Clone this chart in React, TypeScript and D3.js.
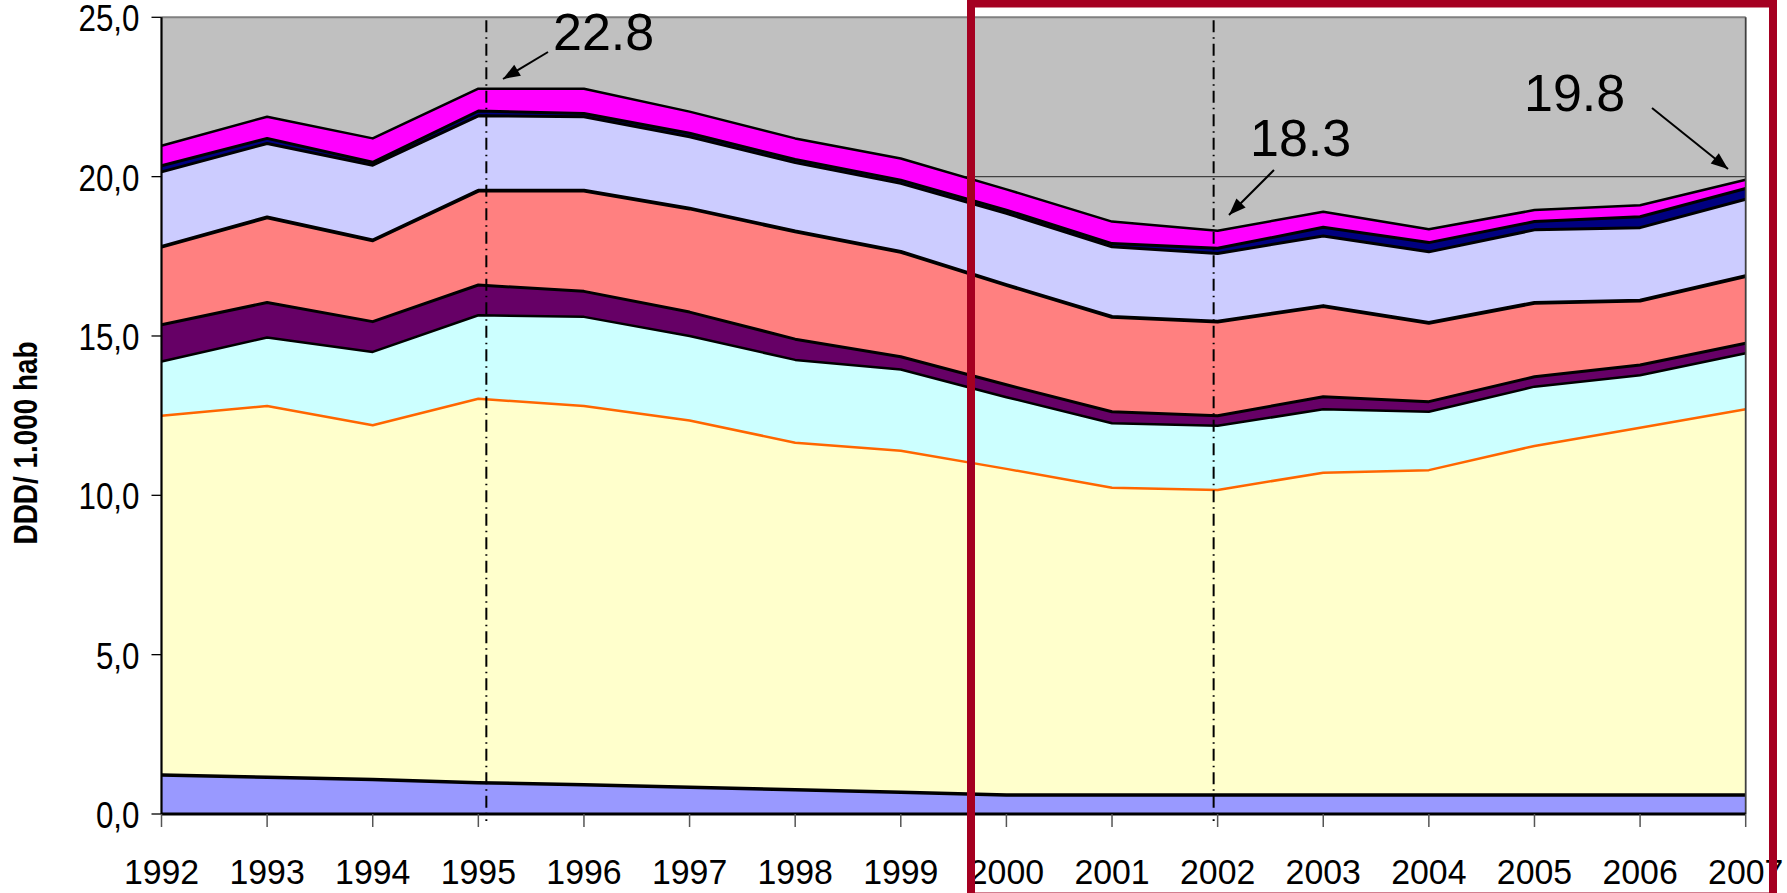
import React from 'react';
import * as d3 from 'd3';

// ---- data ----
const years = [1992, 1993, 1994, 1995, 1996, 1997, 1998, 1999, 2000, 2001, 2002, 2003, 2004, 2005, 2006, 2007];
const serieBase = [1.22, 1.15, 1.08, 0.98, 0.92, 0.84, 0.76, 0.68, 0.6, 0.6, 0.6, 0.6, 0.6, 0.6, 0.6, 0.6];
const serieAmarilla = [11.28, 11.65, 11.12, 12.05, 11.88, 11.51, 10.89, 10.72, 10.23, 9.64, 9.57, 10.11, 10.19, 10.95, 11.52, 12.1];
const serieCian = [1.7, 2.15, 2.3, 2.62, 2.8, 2.65, 2.6, 2.55, 2.25, 2.02, 2.01, 1.99, 1.83, 1.86, 1.65, 1.76];
const seriePurpura = [1.15, 1.1, 0.95, 0.95, 0.8, 0.75, 0.65, 0.4, 0.39, 0.36, 0.32, 0.39, 0.32, 0.31, 0.32, 0.31];
const serieSalmon = [2.45, 2.67, 2.55, 2.96, 3.16, 3.25, 3.38, 3.29, 3.13, 2.98, 2.95, 2.85, 2.47, 2.32, 2.02, 2.11];
const serieLavanda = [2.35, 2.32, 2.36, 2.35, 2.32, 2.25, 2.16, 2.15, 2.25, 2.2, 2.14, 2.2, 2.23, 2.29, 2.29, 2.41];
const serieAzul = [0.19, 0.16, 0.09, 0.15, 0.1, 0.11, 0.1, 0.1, 0.1, 0.1, 0.16, 0.27, 0.29, 0.26, 0.34, 0.34];
const serieMagenta = [0.63, 0.68, 0.75, 0.7, 0.78, 0.68, 0.66, 0.68, 0.65, 0.69, 0.55, 0.49, 0.42, 0.36, 0.36, 0.27];
const yTicks = [0, 5, 10, 15, 20, 25];
const yMax = 25;
const yTitle = 'DDD/ 1.000 hab';
const annotations = [
  { text: '22.8', tx: 553, ty: 50, x1: 548, y1: 52, x2: 503, y2: 79 },
  { text: '18.3', tx: 1250, ty: 156, x1: 1274, y1: 170, x2: 1229, y2: 215 },
  { text: '19.8', tx: 1524, ty: 111, x1: 1652, y1: 108, x2: 1728, y2: 169 },
];
const markedYears = [{ year: 1995, dx: 8 }, { year: 2002, dx: -4 }];

const seriesDefs = [
  { key: 'base', values: serieBase, fill: '#9999FF', stroke: '#000000', sw: 3.5 },
  { key: 'amarilla', values: serieAmarilla, fill: '#FFFFCC', stroke: '#FF6600', sw: 2.5 },
  { key: 'cian', values: serieCian, fill: '#CCFFFF', stroke: '#000000', sw: 2.5 },
  { key: 'purpura', values: seriePurpura, fill: '#660066', stroke: '#000000', sw: 3 },
  { key: 'salmon', values: serieSalmon, fill: '#FF8080', stroke: '#000000', sw: 3.8 },
  { key: 'lavanda', values: serieLavanda, fill: '#CCCCFF', stroke: '#000000', sw: 3 },
  { key: 'azul', values: serieAzul, fill: '#000080', stroke: '#000000', sw: 3 },
  { key: 'magenta', values: serieMagenta, fill: '#FF00FF', stroke: '#000000', sw: 2.5 },
];

const FONT = '"Liberation Sans", Arial, sans-serif';

export default function App() {
  const W = 1787;
  const H = 893;
  const left = 161.5, right = 1745.7, top = 17.3, bottom = 814;

  const x = d3.scaleLinear().domain([years[0], years[years.length - 1]]).range([left, right]);
  const y = d3.scaleLinear().domain([0, yMax]).range([bottom, top]);

  const rows = years.map((yr, i) => {
    const r: any = { year: yr };
    seriesDefs.forEach((s) => (r[s.key] = s.values[i]));
    return r;
  });
  const stacked = d3.stack().keys(seriesDefs.map((s) => s.key))(rows);

  const area = d3
    .area<any>()
    .x((d) => x(d.data.year))
    .y0((d) => y(d[0]))
    .y1((d) => y(d[1]));
  const topLine = d3
    .line<any>()
    .x((d) => x(d.data.year))
    .y((d) => y(d[1]));

  const fmt = (v: number) => d3.format('.1f')(v).replace('.', ',');

  const arrowHead = (a: any) => {
    const ang = Math.atan2(a.y2 - a.y1, a.x2 - a.x1);
    const len = 17, half = 6.5;
    const bx = a.x2 - len * Math.cos(ang);
    const by = a.y2 - len * Math.sin(ang);
    const px = -Math.sin(ang), py = Math.cos(ang);
    return `${a.x2},${a.y2} ${bx + half * px},${by + half * py} ${bx - half * px},${by - half * py}`;
  };

  return (
    <svg
      width={W}
      height={H}
      style={{ position: 'absolute', left: 0, top: 0, display: 'block', background: '#ffffff' }}
    >
      {/* plot background */}
      <rect x={left} y={top} width={right - left} height={bottom - top} fill="#C0C0C0" />
      {/* gridlines */}
      {yTicks.filter((t) => t > 0 && t < yMax).map((t) => (
        <line key={'g' + t} x1={left} x2={right} y1={y(t)} y2={y(t)} stroke="#404040" strokeWidth={1.2} />
      ))}
      {/* areas */}
      {stacked.map((s, i) => (
        <path key={'a' + i} d={area(s as any) || ''} fill={seriesDefs[i].fill} stroke="none" />
      ))}
      {/* boundary lines */}
      {stacked.map((s, i) => (
        <path
          key={'l' + i}
          d={topLine(s as any) || ''}
          fill="none"
          stroke={seriesDefs[i].stroke}
          strokeWidth={seriesDefs[i].sw}
          strokeLinejoin="round"
        />
      ))}
      {/* top & right border */}
      <line x1={left} x2={right} y1={top} y2={top} stroke="#808080" strokeWidth={2} />
      <line x1={right} x2={right} y1={top} y2={bottom} stroke="#404040" strokeWidth={1.8} />
      {/* marked years dash-dot lines */}
      {markedYears.map((m) => (
        <line
          key={'m' + m.year}
          x1={x(m.year) + m.dx}
          x2={x(m.year) + m.dx}
          y1={top + 3}
          y2={bottom + 7}
          stroke="#000000"
          strokeWidth={2}
          strokeDasharray="12,5,1.5,5"
        />
      ))}
      {/* y axis */}
      <line x1={left} x2={left} y1={top} y2={bottom} stroke="#000000" strokeWidth={2.2} />
      {yTicks.map((t) => (
        <g key={'yt' + t}>
          <line x1={left - 10} x2={left} y1={y(t)} y2={y(t)} stroke="#000000" strokeWidth={1.3} />
          <text
            transform={`translate(${left - 22},${y(t) + 14}) scale(0.87,1)`}
            textAnchor="end"
            fontFamily={FONT}
            fontSize={36}
            fill="#000000"
          >
            {fmt(t)}
          </text>
        </g>
      ))}
      {/* x axis */}
      <line x1={left} x2={right} y1={bottom} y2={bottom} stroke="#000000" strokeWidth={3} />
      {years.map((yr) => (
        <g key={'xt' + yr}>
          <line x1={x(yr)} x2={x(yr)} y1={bottom} y2={bottom + 13} stroke="#555555" strokeWidth={1.5} />
          <text
            transform={`translate(${x(yr)},${bottom + 70}) scale(0.94,1)`}
            textAnchor="middle"
            fontFamily={FONT}
            fontSize={36}
            fill="#000000"
          >
            {String(yr)}
          </text>
        </g>
      ))}
      {/* y title */}
      <text
        transform={`translate(37,443) rotate(-90)`}
        textAnchor="middle"
        fontFamily={FONT}
        fontWeight="bold"
        fontSize={33}
        textLength={203}
        lengthAdjust="spacingAndGlyphs"
        fill="#000000"
      >
        {yTitle}
      </text>
      {/* annotations */}
      {annotations.map((a) => (
        <g key={a.text}>
          <text x={a.tx} y={a.ty} fontFamily={FONT} fontSize={52} fill="#000000">
            {a.text}
          </text>
          <line x1={a.x1} y1={a.y1} x2={a.x2} y2={a.y2} stroke="#000000" strokeWidth={2} />
          <polygon points={arrowHead(a)} fill="#000000" />
        </g>
      ))}
      {/* highlight frame */}
      <rect x={971} y={3.5} width={802} height={893} fill="none" stroke="#A50021" strokeWidth={8} />
    </svg>
  );
}
